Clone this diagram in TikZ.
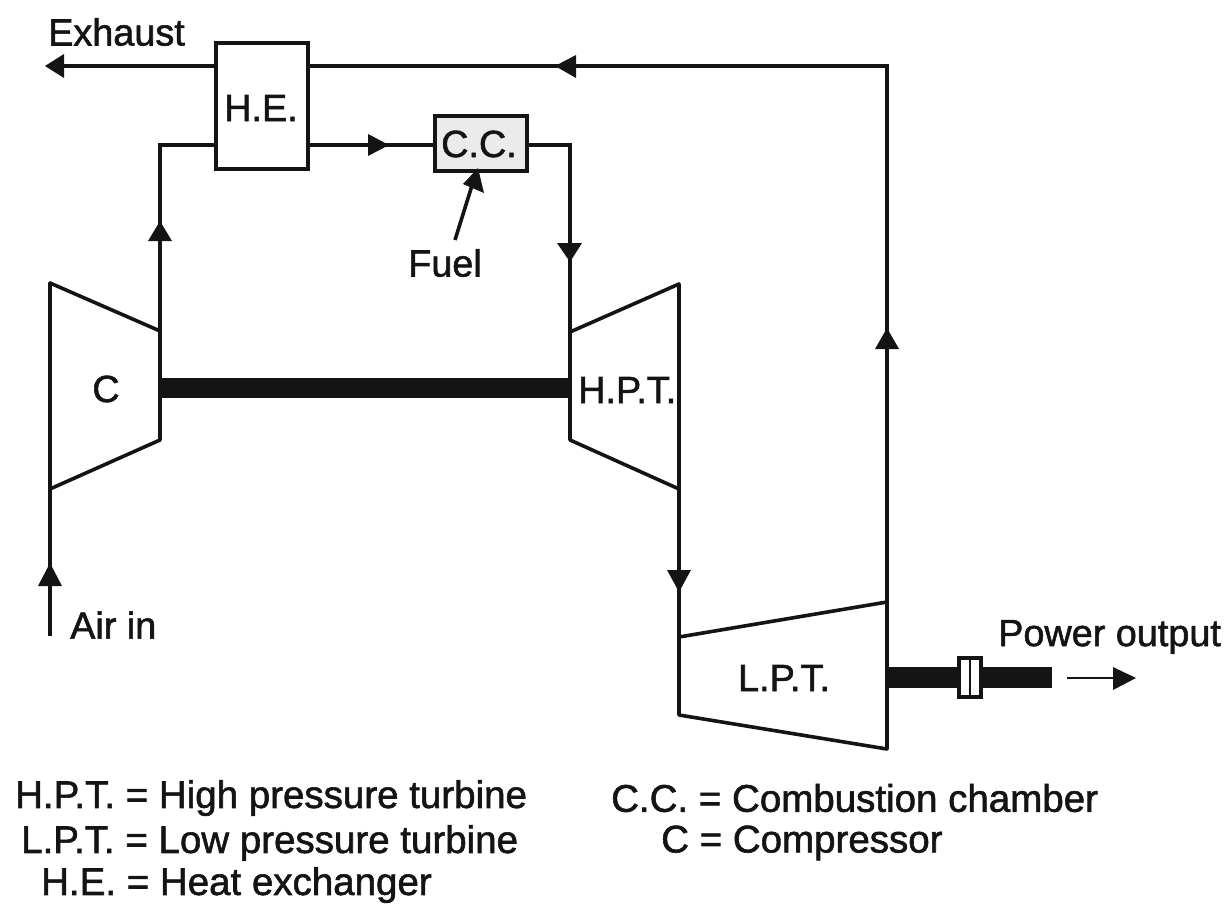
\documentclass[tikz,border=0pt]{standalone}
\usepackage{fontspec}
\setmainfont{Liberation Sans}[FakeBold=1.5]
\usetikzlibrary{arrows.meta}
\definecolor{ink}{gray}{0.08}
\tikzset{
 ln/.style={draw=ink,line width=3.6pt},
 thinln/.style={draw=ink,line width=2.8pt},
 shaftline/.style={draw=ink,line width=20pt},
 lbl/.style={font=\fontsize{37.8}{42}\selectfont,text=ink,inner sep=0pt},
 leg/.style={font=\fontsize{38.5}{42}\selectfont,text=ink,inner sep=0pt},
 boxn/.style={ln,fill=white,inner sep=0pt},
}
\begin{document}
\begin{tikzpicture}[x=1pt,y=-1pt]
\useasboundingbox (0,0) rectangle (1224,905);
\coordinate (exh) at (50,66);
\coordinate (topr) at (887,66);
\coordinate (lo) at (160,145);
\coordinate (ccr) at (570,145);
\node[boxn,minimum width=92,minimum height=126,anchor=north west] (he) at (214,41) {};
\node[lbl] (het) at (261,108) {H.E.};
\node[boxn,minimum width=92,minimum height=55,anchor=north west,fill=black!8] (cc) at (433,114) {};
\node[lbl] (cct) at (479,144) {C.C.};
\draw[ln,line join=round] (50,283) -- (160,331) -- (160,440) -- (50,489) -- cycle;
\coordinate (cE) at (160,388);
\node[lbl] (c) at (106,389) {C};
\draw[ln,line join=round] (570,332) -- (679,284) -- (679,489) -- (570,440) -- cycle;
\coordinate (hW) at (570,388);
\draw[ln,line join=round] (679,637) -- (887,602) -- (887,749) -- (679,715) -- cycle;
\coordinate (lE) at (887,677);
\node[lbl] (lpt) at (784,678) {L.P.T.};
\draw[ln] (he.west |- exh) -- (exh);
\draw[ln] (887,602) -- (topr) -- (he.east |- topr);
\draw[ln] (160,331) -- (lo) -- (he.west |- lo);
\draw[ln] (he.east |- lo) -- (cc.west |- lo);
\draw[ln] (cc.east |- ccr) -- (ccr) -- (570,332);
\draw[ln] (679,489) -- (679,637);
\draw[ln] (50,489) -- (50,636);
\draw[shaftline] (cE) -- (hW);
\node[lbl,anchor=west] (hpt) at (578,390) {H.P.T.};
\draw[shaftline,line width=21pt] (lE) -- (1052,677);
\node[ln,fill=white,minimum width=22,minimum height=39,inner sep=0pt] (cpl) at (970,677.5) {};
\draw[thinln] (970,658) -- (970,697);
\coordinate (fuelS) at (455,240);
\draw[ln] (fuelS) -- (cc.south -| 476,0);
\fill[ink] (478,168) -- (463,184) -- (484,193) -- cycle;
\fill[ink] (45,66) -- (64,54) -- (64,78) -- cycle;
\fill[ink] (555,66) -- (576,55) -- (576,78) -- cycle;
\fill[ink] (389,145) -- (368,134) -- (368,156) -- cycle;
\fill[ink] (160,221) -- (148,241) -- (172,241) -- cycle;
\fill[ink] (570,262) -- (557,243) -- (582,243) -- cycle;
\fill[ink] (679,592) -- (667,570) -- (691,570) -- cycle;
\fill[ink] (887,328) -- (875,349) -- (899,349) -- cycle;
\fill[ink] (50,563) -- (38,586) -- (62,586) -- cycle;
\coordinate (oS) at (1067,678);
\coordinate (oE) at (1136,678);
\draw[thinln] (oS) -- (1115,678);
\fill[ink] (oE) -- (1113,667) -- (1113,690) -- cycle;
\node[lbl,anchor=west] (l1) at (48,32) {Exhaust};
\node[lbl] (l2) at (445,263) {Fuel};
\node[lbl,anchor=west] (l3) at (70,625) {Air in};
\node[lbl,anchor=west] (l4) at (998,637) {Power output};
\node[leg,anchor=west] (l5) at (15,798) {H.P.T. = High pressure turbine};
\node[leg,anchor=west] (l6) at (21,843) {L.P.T. = Low pressure turbine};
\node[leg,anchor=west] (l7) at (41,885) {H.E. = Heat exchanger};
\node[leg,anchor=west] (l8) at (611,798) {C.C. = Combustion chamber};
\node[leg,anchor=west] (l9) at (661,843) {C = Compressor};
\end{tikzpicture}
\end{document}
